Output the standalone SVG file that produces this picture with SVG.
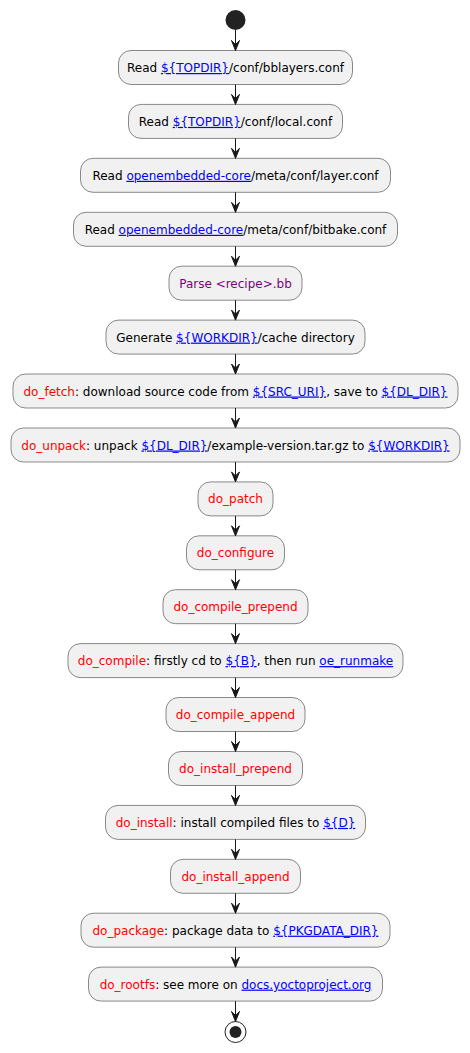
<svg xmlns="http://www.w3.org/2000/svg" width="470" height="1053" viewBox="0 0 470 1053">
<style>
.n rect{fill:#F1F1F1;stroke:#181818;stroke-width:0.5}
text{font-family:"DejaVu Sans",sans-serif;font-size:12px;fill:#000000;text-anchor:middle}
.l{fill:#0000FF;text-decoration:underline}
.r{fill:#FF0000}
.p{fill:#800080}
#connectors line{stroke:#181818;stroke-width:1}
#connectors polygon{fill:#181818;stroke:#181818;stroke-width:1}
</style>
<rect width="470" height="1053" fill="#FFFFFF"/>
<g id="start"><circle cx="235.5" cy="20" r="10" fill="#222222"/></g>
<g id="n1" class="n"><rect x="118.5" y="50.5" width="234" height="34" rx="12.5"/><text x="235.5" y="72">Read <tspan class="l">${TOPDIR}</tspan>/conf/bblayers.conf</text></g>
<g id="n2" class="n"><rect x="128.5" y="104.4" width="214" height="34" rx="12.5"/><text x="235.5" y="125.9">Read <tspan class="l">${TOPDIR}</tspan>/conf/local.conf</text></g>
<g id="n3" class="n"><rect x="80.5" y="158.3" width="310" height="34" rx="12.5"/><text x="235.5" y="179.8">Read <tspan class="l">openembedded-core</tspan>/meta/conf/layer.conf</text></g>
<g id="n4" class="n"><rect x="73.5" y="212.3" width="324" height="34" rx="12.5"/><text x="235.5" y="233.8">Read <tspan class="l">openembedded-core</tspan>/meta/conf/bitbake.conf</text></g>
<g id="n5" class="n"><rect x="169" y="266.2" width="133" height="34" rx="12.5"/><text x="235.5" y="287.7" class="p">Parse &lt;recipe&gt;.bb</text></g>
<g id="n6" class="n"><rect x="106" y="320.1" width="259" height="34" rx="12.5"/><text x="235.5" y="341.6">Generate <tspan class="l">${WORKDIR}</tspan>/cache directory</text></g>
<g id="n7" class="n"><rect x="13" y="374" width="445" height="34" rx="12.5"/><text x="235.5" y="395.5"><tspan class="r">do_fetch</tspan>: download source code from <tspan class="l">${SRC_URI}</tspan>, save to <tspan class="l">${DL_DIR}</tspan></text></g>
<g id="n8" class="n"><rect x="11" y="428" width="449" height="34" rx="12.5"/><text x="235.5" y="449.5"><tspan class="r">do_unpack</tspan>: unpack <tspan class="l">${DL_DIR}</tspan>/example-version.tar.gz to <tspan class="l">${WORKDIR}</tspan></text></g>
<g id="n9" class="n"><rect x="198" y="481.9" width="75" height="34" rx="12.5"/><text x="235.5" y="503.4" class="r">do_patch</text></g>
<g id="n10" class="n"><rect x="186.5" y="535.8" width="98" height="34" rx="12.5"/><text x="235.5" y="557.3" class="r">do_configure</text></g>
<g id="n11" class="n"><rect x="163" y="589.7" width="145" height="34" rx="12.5"/><text x="235.5" y="611.2" class="r">do_compile_prepend</text></g>
<g id="n12" class="n"><rect x="68" y="643.6" width="335" height="34" rx="12.5"/><text x="235.5" y="665.1"><tspan class="r">do_compile</tspan>: firstly cd to <tspan class="l">${B}</tspan>, then run <tspan class="l">oe_runmake</tspan></text></g>
<g id="n13" class="n"><rect x="166" y="697.5" width="139" height="34" rx="12.5"/><text x="235.5" y="719" class="r">do_compile_append</text></g>
<g id="n14" class="n"><rect x="168.5" y="751.5" width="134" height="34" rx="12.5"/><text x="235.5" y="773" class="r">do_install_prepend</text></g>
<g id="n15" class="n"><rect x="105.5" y="805.4" width="260" height="34" rx="12.5"/><text x="235.5" y="826.9"><tspan class="r">do_install</tspan>: install compiled files to <tspan class="l">${D}</tspan></text></g>
<g id="n16" class="n"><rect x="170.5" y="859.3" width="130" height="34" rx="12.5"/><text x="235.5" y="880.8" class="r">do_install_append</text></g>
<g id="n17" class="n"><rect x="81" y="913.2" width="309" height="34" rx="12.5"/><text x="235.5" y="934.7"><tspan class="r">do_package</tspan>: package data to <tspan class="l">${PKGDATA_DIR}</tspan></text></g>
<g id="n18" class="n"><rect x="88.5" y="967.1" width="294" height="34" rx="12.5"/><text x="235.5" y="988.6"><tspan class="r">do_rootfs</tspan>: see more on <tspan class="l">docs.yoctoproject.org</tspan></text></g>
<g id="end"><circle cx="235.5" cy="1032" r="10.5" fill="none" stroke="#222222" stroke-width="1"/><circle cx="235.5" cy="1032" r="6" fill="#222222"/></g>
<g id="connectors">
<line x1="235.5" y1="30" x2="235.5" y2="50.5"/><polygon points="231.5,40.5 235.5,50.5 239.5,40.5 235.5,44.5"/>
<line x1="235.5" y1="84.5" x2="235.5" y2="104.4"/><polygon points="231.5,94.4 235.5,104.4 239.5,94.4 235.5,98.4"/>
<line x1="235.5" y1="138.4" x2="235.5" y2="158.3"/><polygon points="231.5,148.3 235.5,158.3 239.5,148.3 235.5,152.3"/>
<line x1="235.5" y1="192.3" x2="235.5" y2="212.3"/><polygon points="231.5,202.3 235.5,212.3 239.5,202.3 235.5,206.3"/>
<line x1="235.5" y1="246.3" x2="235.5" y2="266.2"/><polygon points="231.5,256.2 235.5,266.2 239.5,256.2 235.5,260.2"/>
<line x1="235.5" y1="300.2" x2="235.5" y2="320.1"/><polygon points="231.5,310.1 235.5,320.1 239.5,310.1 235.5,314.1"/>
<line x1="235.5" y1="354.1" x2="235.5" y2="374"/><polygon points="231.5,364 235.5,374 239.5,364 235.5,368"/>
<line x1="235.5" y1="408" x2="235.5" y2="428"/><polygon points="231.5,418 235.5,428 239.5,418 235.5,422"/>
<line x1="235.5" y1="462" x2="235.5" y2="481.9"/><polygon points="231.5,471.9 235.5,481.9 239.5,471.9 235.5,475.9"/>
<line x1="235.5" y1="515.9" x2="235.5" y2="535.8"/><polygon points="231.5,525.8 235.5,535.8 239.5,525.8 235.5,529.8"/>
<line x1="235.5" y1="569.8" x2="235.5" y2="589.7"/><polygon points="231.5,579.7 235.5,589.7 239.5,579.7 235.5,583.7"/>
<line x1="235.5" y1="623.7" x2="235.5" y2="643.6"/><polygon points="231.5,633.6 235.5,643.6 239.5,633.6 235.5,637.6"/>
<line x1="235.5" y1="677.6" x2="235.5" y2="697.5"/><polygon points="231.5,687.5 235.5,697.5 239.5,687.5 235.5,691.5"/>
<line x1="235.5" y1="731.5" x2="235.5" y2="751.5"/><polygon points="231.5,741.5 235.5,751.5 239.5,741.5 235.5,745.5"/>
<line x1="235.5" y1="785.5" x2="235.5" y2="805.4"/><polygon points="231.5,795.4 235.5,805.4 239.5,795.4 235.5,799.4"/>
<line x1="235.5" y1="839.4" x2="235.5" y2="859.3"/><polygon points="231.5,849.3 235.5,859.3 239.5,849.3 235.5,853.3"/>
<line x1="235.5" y1="893.3" x2="235.5" y2="913.2"/><polygon points="231.5,903.2 235.5,913.2 239.5,903.2 235.5,907.2"/>
<line x1="235.5" y1="947.2" x2="235.5" y2="967.1"/><polygon points="231.5,957.1 235.5,967.1 239.5,957.1 235.5,961.1"/>
<line x1="235.5" y1="1001.1" x2="235.5" y2="1021.5"/><polygon points="231.5,1011.5 235.5,1021.5 239.5,1011.5 235.5,1015.5"/>
</g>
</svg>
